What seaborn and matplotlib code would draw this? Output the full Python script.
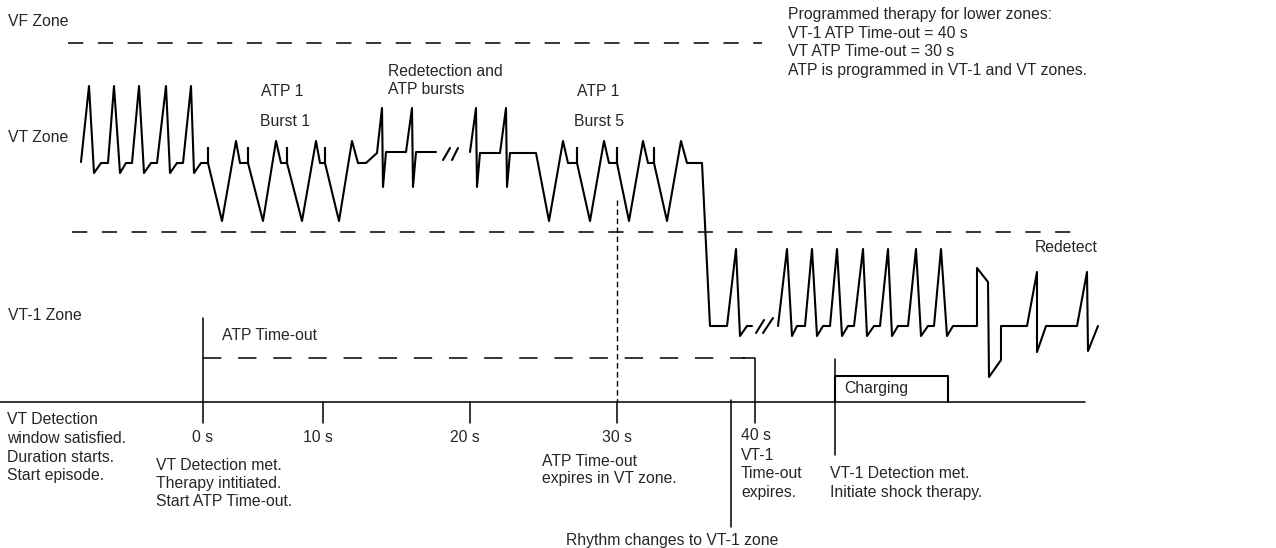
# ATP time-out timeline diagram (VT / VT-1 zones)
import matplotlib
matplotlib.use("Agg")
import matplotlib.pyplot as plt
import seaborn as sns
import pandas as pd

sns.set_style("white")
plt.rcParams['font.family'] = ['Liberation Sans', 'DejaVu Sans']

# waveform traces (diagram pixel units, y grows downwards)
vt_x = [81, 89, 94, 101, 108, 114, 120, 126, 132, 139, 144, 151, 157, 166, 170, 177, 183, 191, 194, 201,
        208, 208, 208, 222, 236, 240, 248, 248, 248, 263, 276, 281, 287, 287, 287, 302, 316, 320, 325, 325,
        325, 339, 352, 358, 366, 377, 382, 383, 386, 406, 412, 413, 416, 436]
vt_y = [162, 86, 173, 163, 163, 86, 173, 163, 163, 86, 173, 163, 163, 86, 173, 163, 163, 86, 173, 163,
        163, 148, 163, 221, 141, 163, 163, 148, 163, 221, 141, 163, 163, 148, 163, 221, 141, 163, 163, 148,
        163, 221, 141, 163, 163, 153, 108, 187, 152, 152, 108, 187, 152, 152]

burst5_x = [470, 476, 477, 480, 500, 506, 507, 510, 536, 549, 563, 568, 577, 577, 577, 590, 604, 609, 617, 617,
            617, 629, 643, 648, 654, 654, 654, 667, 681, 687, 702, 710, 727, 736, 740, 747, 752]
burst5_y = [152, 108, 187, 153, 153, 108, 187, 153, 153, 221, 141, 163, 163, 148, 163, 221, 141, 163, 163, 148,
            163, 221, 141, 163, 163, 148, 163, 221, 141, 163, 163, 326, 326, 249, 336, 326, 326]

vt1_x = [778, 787, 792, 797, 805, 812, 817, 823, 830, 837, 842, 848, 854, 863, 867, 874, 880, 888, 892, 898,
         908, 916, 921, 928, 934, 941, 947, 953, 977, 977, 988, 989, 1001, 1001, 1027, 1037, 1037, 1046, 1077,
         1087, 1088, 1098]
vt1_y = [326, 249, 336, 326, 326, 249, 336, 326, 326, 249, 336, 326, 326, 249, 336, 326, 326, 249, 336, 326,
         326, 249, 336, 326, 326, 249, 336, 326, 326, 268, 282, 377, 360, 326, 326, 272, 352, 326, 326,
         272, 351, 326]

# break marks "//"
break_x = [[443, 450], [452, 458], [756, 764], [763, 773]]
break_y = [[160, 148], [160, 148], [333, 320], [333, 318]]

# time axis
tick_px = [203, 323, 470, 617, 755]
tick_labels = ['0 s', '10 s', '20 s', '30 s', '40 s']

zone_labels = ['VF Zone', 'VT Zone', 'VT-1 Zone']
zone_label_y = [22, 137, 315]

program_lines = ['Programmed therapy for lower zones:',
                 'VT-1 ATP Time-out = 40 s',
                 'VT ATP Time-out = 30 s',
                 'ATP is programmed in VT-1 and VT zones.']

episode_lines = ['VT Detection', 'window satisfied.', 'Duration starts.', 'Start episode.']
detect_lines = ['VT Detection met.', 'Therapy intitiated.', 'Start ATP Time-out.']
vt_expire_lines = ['ATP Time-out', 'expires in VT zone.']
vt1_expire_lines = ['VT-1', 'Time-out', 'expires.']
shock_lines = ['VT-1 Detection met.', 'Initiate shock therapy.']

fig = plt.figure(figsize=(12.76, 5.48), dpi=100)
ax = fig.add_axes([0, 0, 1, 1])

FS = 11.3

# waveform
for xs, ys in [(vt_x, vt_y), (burst5_x, burst5_y), (vt1_x, vt1_y)]:
    df = pd.DataFrame({'x': xs, 'y': ys})
    sns.lineplot(data=df, x='x', y='y', sort=False, estimator=None, ax=ax,
                 color='black', linewidth=1.5)
for bx, by in zip(break_x, break_y):
    ax.plot(bx, by, color='black', lw=1.5)
ax.set_xlim(0, 1276)
ax.set_ylim(548, 0)
ax.axis('off')

# zone boundaries
ax.plot([68, 762], [43, 43], color='black', lw=1.1, ls=(0, (10, 9.5)))
ax.plot([72, 1085], [232, 232], color='black', lw=1.1, ls=(0, (10, 9.5)))

# time axis and ticks
ax.plot([0, 1085], [402, 402], color='black', lw=1.1)
ax.plot([tick_px[0], tick_px[0]], [318, 423], color='black', lw=1.1)
for t in tick_px[1:3]:
    ax.plot([t, t], [402, 423], color='black', lw=1.1)
ax.plot([tick_px[3], tick_px[3]], [200, 402], color='black', lw=1.0, ls=(0, (4, 2.5)))
ax.plot([tick_px[3], tick_px[3]], [402, 423], color='black', lw=1.1)

# ATP time-out bracket
ax.plot([203, 745], [358, 358], color='black', lw=1.1, ls=(0, (12, 11)))
ax.plot([743, tick_px[4], tick_px[4]], [358, 358, 423], color='black', lw=1.1)

# rhythm change and VT-1 detection markers
ax.plot([731, 731], [400, 527], color='black', lw=1.1)
ax.plot([835, 835], [359, 455], color='black', lw=1.1)
ax.plot([835, 835, 948, 948], [402, 376, 376, 402], color='black', lw=1.5)

# texts
for lab, yy in zip(zone_labels, zone_label_y):
    ax.text(8, yy, lab, fontsize=FS, va='center', ha='left')
for i, s in enumerate(program_lines):
    ax.text(788, 15 + i * 18.5, s, fontsize=FS, va='center')
ax.text(388, 71, 'Redetection and', fontsize=FS, va='center')
ax.text(388, 90, 'ATP bursts', fontsize=FS, va='center')
ax.text(261, 92, 'ATP 1', fontsize=FS, va='center')
ax.text(260, 122, 'Burst 1', fontsize=FS, va='center')
ax.text(577, 92, 'ATP 1', fontsize=FS, va='center')
ax.text(574, 122, 'Burst 5', fontsize=FS, va='center')
ax.text(1035, 247, 'Redetect', fontsize=FS, va='center')
ax.text(222, 336, 'ATP Time-out', fontsize=FS, va='center')
ax.text(844, 388, 'Charging', fontsize=FS, va='center')

tick_lab_x = [203, 318, 465, 617]
for xx, lab in zip(tick_lab_x, tick_labels[:4]):
    ax.text(xx, 437, lab, fontsize=FS, va='center', ha='center')
ax.text(741, 436, tick_labels[4], fontsize=FS, va='center')
for i, s in enumerate(vt1_expire_lines):
    ax.text(741, 455 + i * 18.5, s, fontsize=FS, va='center')

for i, s in enumerate(episode_lines):
    ax.text(7, 420 + i * 18.5, s, fontsize=FS, va='center')
for i, s in enumerate(detect_lines):
    ax.text(156, 465 + i * 18.5, s, fontsize=FS, va='center')
for i, s in enumerate(vt_expire_lines):
    ax.text(542, 461 + i * 17, s, fontsize=FS, va='center')
for i, s in enumerate(shock_lines):
    ax.text(830, 474 + i * 18.5, s, fontsize=FS, va='center')
ax.text(566, 540, 'Rhythm changes to VT-1 zone', fontsize=FS, va='center')

fig.savefig('out.png', dpi=100)
